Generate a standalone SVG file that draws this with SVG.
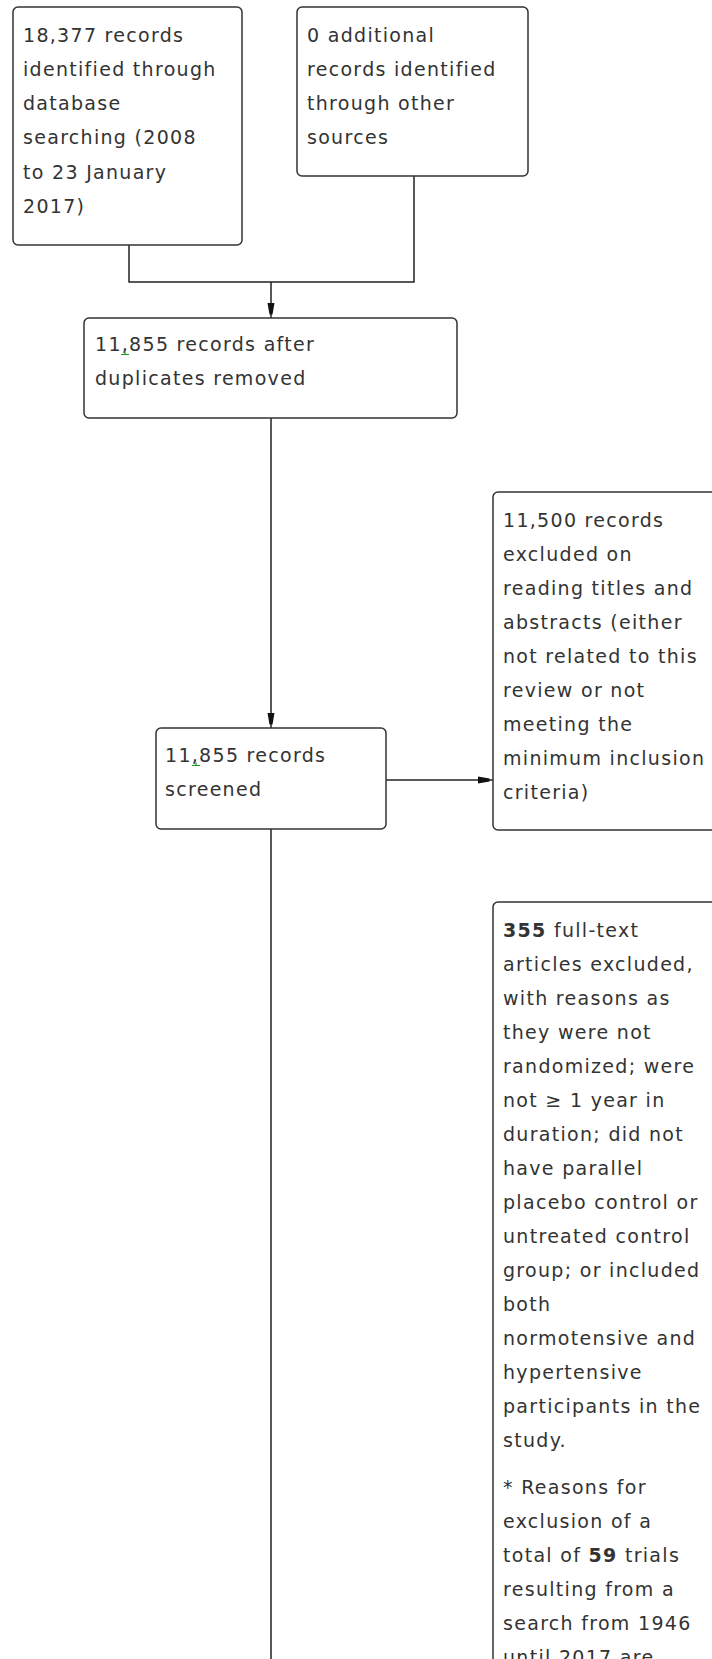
<svg xmlns="http://www.w3.org/2000/svg" width="712" height="1659" viewBox="0 0 712 1659">
<defs>
<style>
.box{fill:#fff;stroke:#333;stroke-width:1.5}
.t{font-family:"DejaVu Sans",Verdana,sans-serif;font-size:19px;letter-spacing:1.3px;fill:#333}
.b{font-weight:bold}
.c{fill:none;stroke:#222;stroke-width:1.5}
.g{fill:none;stroke:#1a9a1a;stroke-width:1.2}
</style>
<marker id="ah" viewBox="-16 -5 17 10" markerWidth="17" markerHeight="10" refX="0" refY="0" orient="auto" markerUnits="userSpaceOnUse">
<path d="M-15,-3.5 L-3.5,-1.5 L-3.5,1.5 L-15,3.5 Z" fill="#111"/>
</marker>
</defs>
<rect width="712" height="1659" fill="#fff"/>
<g id="connectors">
<path class="c" d="M129,245 V282 H414 V176"/>
<path class="c" d="M271,282 V318" marker-end="url(#ah)"/>
<path class="c" d="M271,418 V728" marker-end="url(#ah)"/>
<path class="c" d="M386,780 H493" marker-end="url(#ah)"/>
<path class="c" d="M271,829 V1665"/>
</g>
<g id="n1">
<rect class="box" x="13" y="7" width="229" height="238" rx="5"/>
<text class="t"><tspan x="23" y="41.5">18,377 records</tspan><tspan x="23" y="75.8">identified through</tspan><tspan x="23" y="110.1">database</tspan><tspan x="23" y="144.4">searching (2008</tspan><tspan x="23" y="178.7">to 23 January</tspan><tspan x="23" y="213">2017)</tspan></text>
</g>
<g id="n2">
<rect class="box" x="297" y="7" width="231" height="169" rx="5"/>
<text class="t"><tspan x="307" y="41.5">0 additional</tspan><tspan x="307" y="75.8">records identified</tspan><tspan x="307" y="110.1">through other</tspan><tspan x="307" y="144.4">sources</tspan></text>
</g>
<g id="n3">
<rect class="box" x="84" y="318" width="373" height="100" rx="5"/>
<text class="t"><tspan x="95" y="350.5">11,855 records after</tspan><tspan x="95" y="384.5">duplicates removed</tspan></text>
<path class="g" d="M121,354.5 H129 M125,354.5 V351.5"/>
</g>
<g id="n4">
<rect class="box" x="156" y="728" width="230" height="101" rx="5"/>
<text class="t"><tspan x="165" y="761.5">11,855 records</tspan><tspan x="165" y="795.5">screened</tspan></text>
<path class="g" d="M192,765.5 H200 M196,765.5 V762.5"/>
</g>
<g id="n5">
<rect class="box" x="493" y="492" width="240" height="338" rx="5"/>
<text class="t"><tspan x="503" y="526.5">11,500 records</tspan><tspan x="503" y="560.5">excluded on</tspan><tspan x="503" y="594.5">reading titles and</tspan><tspan x="503" y="628.5">abstracts (either</tspan><tspan x="503" y="662.5">not related to this</tspan><tspan x="503" y="696.5">review or not</tspan><tspan x="503" y="730.5">meeting the</tspan><tspan x="503" y="764.5">minimum inclusion</tspan><tspan x="503" y="798.5">criteria)</tspan></text>
</g>
<g id="n6">
<rect class="box" x="493" y="902" width="240" height="900" rx="5"/>
<text class="t"><tspan x="503" y="937"><tspan class="b">355</tspan> full-text</tspan><tspan x="503" y="971">articles excluded,</tspan><tspan x="503" y="1005">with reasons as</tspan><tspan x="503" y="1039">they were not</tspan><tspan x="503" y="1073">randomized; were</tspan><tspan x="503" y="1107">not ≥ 1 year in</tspan><tspan x="503" y="1141">duration; did not</tspan><tspan x="503" y="1175">have parallel</tspan><tspan x="503" y="1209">placebo control or</tspan><tspan x="503" y="1243">untreated control</tspan><tspan x="503" y="1277">group; or included</tspan><tspan x="503" y="1311">both</tspan><tspan x="503" y="1345">normotensive and</tspan><tspan x="503" y="1379">hypertensive</tspan><tspan x="503" y="1413">participants in the</tspan><tspan x="503" y="1447">study.</tspan><tspan x="503" y="1494">* Reasons for</tspan><tspan x="503" y="1528">exclusion of a</tspan><tspan x="503" y="1562">total of <tspan class="b">59</tspan> trials</tspan><tspan x="503" y="1596">resulting from a</tspan><tspan x="503" y="1630">search from 1946</tspan><tspan x="503" y="1664">until 2017 are</tspan></text>
</g>
</svg>
